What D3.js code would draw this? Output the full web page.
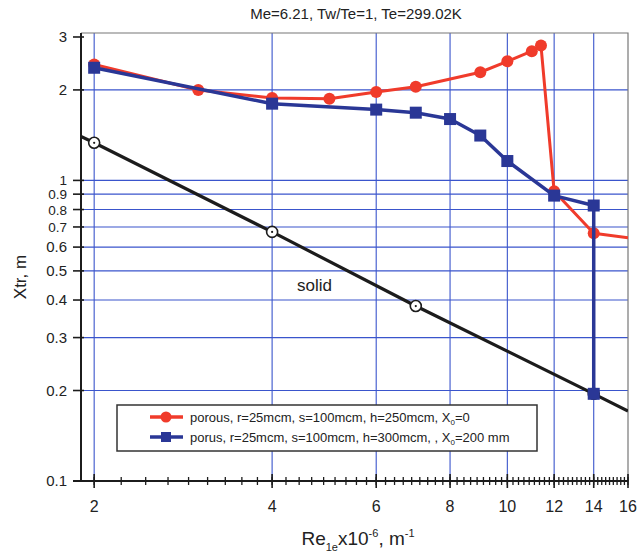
<!DOCTYPE html>
<html>
<head>
<meta charset="utf-8">
<script src="https://cdn.jsdelivr.net/npm/d3@7/dist/d3.min.js"></script>
<style>
  html, body { margin: 0; padding: 0; background: #fff; }
  svg { display: block; font-family: "Liberation Sans", Arial, sans-serif; }
</style>
</head>
<body>
<div id="chart"></div>
<script>
  "use strict";

  // porous, r=25mcm, s=100mcm, h=250mcm, X0=0 (last point is where the line leaves the frame)
  var redX = [2, 3, 4, 5, 6, 7, 9, 10, 11, 11.4, 12, 14, 16];
  var redY = [2.43, 2.0, 1.88, 1.87, 1.97, 2.05, 2.29, 2.49, 2.69, 2.81, 0.92, 0.667, 0.645];

  // porus, r=25mcm, s=100mcm, h=300mcm, X0=200 mm
  var blueX = [2, 4, 6, 7, 8, 9, 10, 12, 14, 14];
  var blueY = [2.37, 1.80, 1.72, 1.68, 1.60, 1.41, 1.16, 0.89, 0.825, 0.195];

  // solid line (ends are the frame edges, open circles at the measured points)
  var solidX = [1.9, 2, 4, 7, 14, 16];
  var solidY = [1.40, 1.334, 0.674, 0.382, 0.195, 0.171];
  var solidMarked = [false, true, true, true, true, false];

  var xTickValues = [2, 4, 6, 8, 10, 12, 14, 16];
  var yTickValues = [0.1, 0.2, 0.3, 0.4, 0.5, 0.6, 0.7, 0.8, 0.9, 1, 2, 3];
  var yGridValues = [0.2, 0.3, 0.4, 0.5, 0.6, 0.7, 0.8, 0.9, 1, 2];
  var xGridValues = [2, 4, 6, 8, 10, 12, 14];

  var legendLabels = [
    "porous, r=25mcm, s=100mcm, h=250mcm, X",
    "porus, r=25mcm, s=100mcm, h=300mcm, , X"
  ];
  var legendTails = ["=0", "=200 mm"];

  (function () {
    var W = 640, H = 558;
    var pL = 81, pR = 628, pT = 33, pB = 481;

    var x = d3.scaleLog().domain([1.9, 16]).range([pL, pR]);
    var y = d3.scaleLog().domain([0.1, 3.093]).range([pB, pT]);

    var RED = "#f03b2b", BLUE = "#2a3796", GRID = "#3a55cc", INK = "#1c1c1c";

    var svg = d3.select("#chart").append("svg")
      .attr("width", W)
      .attr("height", H);

    svg.append("defs").append("clipPath").attr("id", "plotClip")
      .append("rect")
      .attr("x", pL).attr("y", pT)
      .attr("width", pR - pL).attr("height", pB - pT);

    // Title
    svg.append("text")
      .attr("x", 356).attr("y", 19)
      .attr("text-anchor", "middle")
      .attr("font-size", "15px")
      .attr("fill", "#222")
      .text("Me=6.21, Tw/Te=1, Te=299.02K");

    // Grid
    var grid = svg.append("g");
    grid.selectAll(".hg").data(yGridValues).enter().append("line")
      .attr("x1", pL).attr("x2", pR)
      .attr("y1", function (d) { return y(d); })
      .attr("y2", function (d) { return y(d); })
      .attr("stroke", GRID).attr("stroke-width", 1.1);
    grid.selectAll(".vg").data(xGridValues).enter().append("line")
      .attr("y1", pT).attr("y2", pB)
      .attr("x1", function (d) { return x(d); })
      .attr("x2", function (d) { return x(d); })
      .attr("stroke", GRID).attr("stroke-width", 1.1);

    // Frame top/right
    svg.append("path")
      .attr("d", "M" + pL + "," + pT + "H" + pR + "V" + pB)
      .attr("fill", "none").attr("stroke", "#777").attr("stroke-width", 1.2);

    // Axes
    var xMinor = d3.range(2, 16.01, 2 / 9);
    var axisG = svg.append("g");
    axisG.append("line")
      .attr("x1", pL - 8).attr("x2", pR)
      .attr("y1", pB).attr("y2", pB)
      .attr("stroke", INK).attr("stroke-width", 2);
    axisG.append("line")
      .attr("x1", pL).attr("x2", pL)
      .attr("y1", pT).attr("y2", pB)
      .attr("stroke", INK).attr("stroke-width", 2);

    axisG.selectAll(".xm").data(xMinor).enter().append("line")
      .attr("x1", function (d) { return x(d); })
      .attr("x2", function (d) { return x(d); })
      .attr("y1", pB - 4).attr("y2", pB + 4)
      .attr("stroke", INK).attr("stroke-width", 1.3);
    axisG.selectAll(".xM").data(xTickValues).enter().append("line")
      .attr("x1", function (d) { return x(d); })
      .attr("x2", function (d) { return x(d); })
      .attr("y1", pB - 7).attr("y2", pB + 7)
      .attr("stroke", INK).attr("stroke-width", 1.6);
    axisG.selectAll(".xl").data(xTickValues).enter().append("text")
      .attr("x", function (d) { return x(d); })
      .attr("y", 512)
      .attr("text-anchor", "middle")
      .attr("font-size", "16px")
      .attr("fill", "#222")
      .text(function (d) { return d; });

    axisG.selectAll(".yt").data(yTickValues).enter().append("line")
      .attr("x1", pL - 8).attr("x2", pL + 3)
      .attr("y1", function (d) { return y(d); })
      .attr("y2", function (d) { return y(d); })
      .attr("stroke", INK).attr("stroke-width", 1.6);
    axisG.selectAll(".yl").data(yTickValues).enter().append("text")
      .attr("x", 67)
      .attr("y", function (d) { return y(d) + 5; })
      .attr("text-anchor", "end")
      .attr("font-size", function (d) { return d > 0.6 && d < 2 ? "13.5px" : "15px"; })
      .attr("fill", "#222")
      .text(function (d) { return d; });

    // Axis titles
    svg.append("text")
      .attr("transform", "translate(26,277) rotate(-90)")
      .attr("text-anchor", "middle")
      .attr("font-size", "17px")
      .attr("fill", "#222")
      .text("Xtr, m");

    var xt = svg.append("text")
      .attr("x", 358).attr("y", 545)
      .attr("text-anchor", "middle")
      .attr("font-size", "19px")
      .attr("fill", "#222");
    xt.append("tspan").text("Re");
    xt.append("tspan").attr("font-size", "11px").attr("dy", 6).text("1e");
    xt.append("tspan").attr("dy", -6).text("x10");
    xt.append("tspan").attr("font-size", "11px").attr("dy", -8).text("-6");
    xt.append("tspan").attr("dy", 8).text(", m");
    xt.append("tspan").attr("font-size", "11px").attr("dy", -8).text("-1");

    // Series
    var plot = svg.append("g").attr("clip-path", "url(#plotClip)");
    var line = d3.line()
      .x(function (d) { return x(d[0]); })
      .y(function (d) { return y(d[1]); });

    var solidData = d3.zip(solidX, solidY);
    plot.append("path").datum(solidData)
      .attr("d", line)
      .attr("fill", "none").attr("stroke", INK).attr("stroke-width", 3.2);
    var openPts = plot.selectAll(".op")
      .data(solidData.filter(function (d, i) { return solidMarked[i]; }))
      .enter().append("g")
      .attr("transform", function (d) { return "translate(" + x(d[0]) + "," + y(d[1]) + ")"; });
    openPts.append("circle").attr("r", 5.5)
      .attr("fill", "#fff").attr("stroke", INK).attr("stroke-width", 1.6);
    openPts.append("circle").attr("r", 1.1).attr("fill", INK);

    var redData = d3.zip(redX, redY);
    plot.append("path").datum(redData)
      .attr("d", line)
      .attr("fill", "none").attr("stroke", RED).attr("stroke-width", 3)
      .attr("stroke-linejoin", "round");
    plot.selectAll(".rp")
      .data(redData.filter(function (d) { return d[0] < 16; }))
      .enter().append("circle")
      .attr("cx", function (d) { return x(d[0]); })
      .attr("cy", function (d) { return y(d[1]); })
      .attr("r", 6)
      .attr("fill", RED);

    var blueData = d3.zip(blueX, blueY);
    plot.append("path").datum(blueData)
      .attr("d", line)
      .attr("fill", "none").attr("stroke", BLUE).attr("stroke-width", 3.5)
      .attr("stroke-linejoin", "round");
    plot.selectAll(".bp").data(blueData)
      .enter().append("rect")
      .attr("x", function (d) { return x(d[0]) - 6; })
      .attr("y", function (d) { return y(d[1]) - 6; })
      .attr("width", 12).attr("height", 12)
      .attr("fill", BLUE);

    // "solid" label
    svg.append("text")
      .attr("x", 297).attr("y", 291)
      .attr("font-size", "17px")
      .attr("fill", "#222")
      .text("solid");

    // Legend
    var lg = svg.append("g");
    lg.append("rect")
      .attr("x", 117).attr("y", 405)
      .attr("width", 420).attr("height", 46)
      .attr("fill", "#fff").attr("stroke", "#333").attr("stroke-width", 1.5);
    var legendColors = [RED, BLUE];
    legendLabels.forEach(function (lbl, i) {
      var cy = 417 + i * 20;
      lg.append("line")
        .attr("x1", 150).attr("x2", 183)
        .attr("y1", cy).attr("y2", cy)
        .attr("stroke", legendColors[i]).attr("stroke-width", 3.5);
      if (i === 0) {
        lg.append("circle").attr("cx", 166).attr("cy", cy).attr("r", 5.5).attr("fill", RED);
      } else {
        lg.append("rect").attr("x", 161).attr("y", cy - 5).attr("width", 10).attr("height", 10).attr("fill", BLUE);
      }
      var t = lg.append("text")
        .attr("x", 190).attr("y", cy + 4.5)
        .attr("font-size", "13px")
        .attr("fill", "#222");
      t.append("tspan").text(lbl);
      t.append("tspan").attr("font-size", "8px").attr("dy", 3).text("0");
      t.append("tspan").attr("dy", -3).text(legendTails[i]);
    });
  })();
</script>
</body>
</html>
